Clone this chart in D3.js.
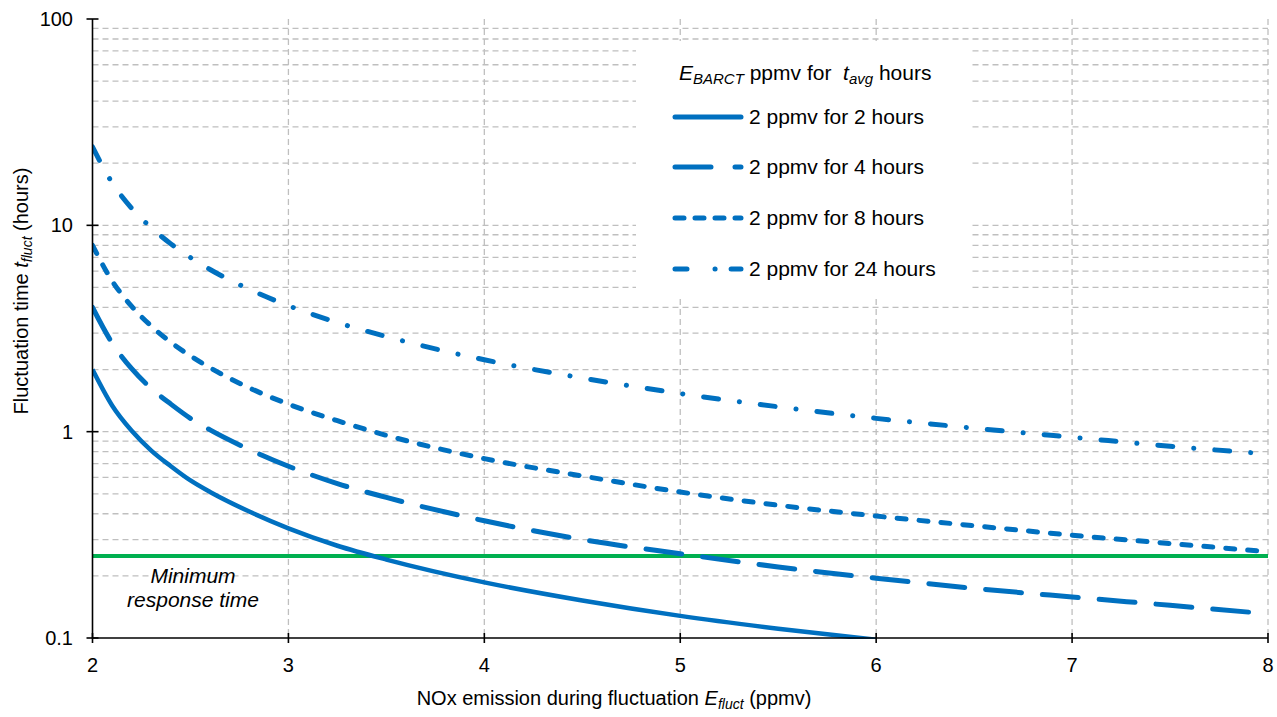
<!DOCTYPE html>
<html><head><meta charset="utf-8">
<script src="https://cdn.jsdelivr.net/npm/d3@7"></script>
<style>body{margin:0;background:#fff}svg{display:block;font-family:"Liberation Sans",Arial,sans-serif}</style>
</head><body><svg id="c" width="1277" height="717"></svg>
<script>
const xValues = [2, 2.1, 2.2, 2.3, 2.4, 2.5, 2.6, 2.8, 3, 3.25, 3.5, 4, 4.5, 5, 5.5, 6, 6.5, 7, 7.5, 8];
const t2h  = [2.0, 1.34, 1.01, 0.81, 0.68, 0.58, 0.51, 0.41, 0.34, 0.28, 0.24, 0.186, 0.152, 0.128, 0.111, 0.098];
const t4h  = [4.0, 2.69, 2.02, 1.62, 1.36, 1.16, 1.02, 0.82, 0.68, 0.56, 0.48, 0.37, 0.30, 0.256, 0.221, 0.195, 0.174, 0.158, 0.144, 0.131];
const t8h  = [8.0, 5.38, 4.05, 3.25, 2.71, 2.33, 2.04, 1.63, 1.36, 1.13, 0.96, 0.74, 0.61, 0.51, 0.44, 0.39, 0.35, 0.315, 0.287, 0.262];
const t24h = [24.0, 16.1, 12.1, 9.74, 8.13, 6.98, 6.11, 4.90, 4.08, 3.38, 2.89, 2.23, 1.82, 1.53, 1.32, 1.16, 1.04, 0.94, 0.85, 0.78];
const seriesNames = ["2 ppmv for 2 hours", "2 ppmv for 4 hours", "2 ppmv for 8 hours", "2 ppmv for 24 hours"];
const minResponse = 0.25;
const xTicks = [2, 3, 4, 5, 6, 7, 8];
const yTicks = [0.1, 1, 10, 100];
const yTickLabels = ["0.1", "1", "10", "100"];

const svg = d3.select("#c");
const L = 92.5, R = 1268, T = 19, B = 638;
const x = d3.scaleLinear().domain([2, 8]).range([L, R]);
const y = d3.scaleLog().domain([0.1, 100]).range([B, T]);
const blue = "#0070c0", grid = "#bfbfbf";

// minor gridlines
const minor = [];
for (let d = 0.1; d < 100; d *= 10) for (let k = 1; k <= 9; k++) { const v = +(d * k).toPrecision(3); if (v > 0.1 && v <= 100) minor.push(v); }
svg.append("g").selectAll("line").data(minor).join("line")
  .attr("x1", L).attr("x2", R).attr("y1", d => y(d)).attr("y2", d => y(d))
  .attr("stroke", grid).attr("stroke-width", 1.3).attr("stroke-dasharray", "6,4");
svg.append("g").selectAll("line").data(xTicks.slice(1)).join("line")
  .attr("x1", d => x(d)).attr("x2", d => x(d)).attr("y1", T).attr("y2", B)
  .attr("stroke", grid).attr("stroke-width", 1.3).attr("stroke-dasharray", "6,4");

// legend background
svg.append("rect").attr("x", 636).attr("y", 41).attr("width", 336).attr("height", 254).attr("fill", "#fff");

// clip
svg.append("clipPath").attr("id", "pc").append("rect").attr("x", L).attr("y", T).attr("width", R - L).attr("height", B - T + 1);

// min response line
svg.append("line").attr("x1", L).attr("x2", R).attr("y1", y(minResponse)).attr("y2", y(minResponse))
  .attr("stroke", "#00b050").attr("stroke-width", 4);

const dashes = [null, "36,21", "9,13", "15,21,0.1,21"];
const series = [t2h, t4h, t8h, t24h];
const line = d3.line().x(d => x(d[0])).y(d => y(d[1])).curve(d3.curveMonotoneX);
const cg = svg.append("g").attr("clip-path", "url(#pc)");
series.forEach((s, i) => {
  cg.append("path").datum(s.map((v, j) => [xValues[j], v]))
    .attr("d", line).attr("fill", "none").attr("stroke", blue)
    .attr("stroke-width", i === 0 ? 4.5 : 5).attr("stroke-linecap", i === 0 ? "butt" : "round")
    .attr("stroke-dasharray", dashes[i]);
});

// axes
const ax = svg.append("g").attr("stroke", "#000").attr("stroke-width", 1.6);
ax.append("line").attr("x1", L).attr("x2", L).attr("y1", T).attr("y2", B + 0.5);
ax.append("line").attr("x1", L).attr("x2", R).attr("y1", B).attr("y2", B);
ax.selectAll(".yt").data(yTicks).join("line").attr("x1", L - 6).attr("x2", L + 6).attr("y1", d => y(d)).attr("y2", d => y(d));
ax.selectAll(".xt").data(xTicks).join("line").attr("x1", d => x(d)).attr("x2", d => x(d)).attr("y1", B - 5).attr("y2", B + 5);

svg.append("g").selectAll("text").data(yTicks).join("text")
  .attr("x", 73).attr("y", d => y(d)).attr("dy", "0.35em").attr("text-anchor", "end")
  .attr("font-size", 20).text((d, i) => yTickLabels[i]);
svg.append("g").selectAll("text").data(xTicks).join("text")
  .attr("x", d => x(d)).attr("y", 672).attr("text-anchor", "middle")
  .attr("font-size", 20).text(d => d);

// axis titles
const xt = svg.append("text").attr("x", 614).attr("y", 705).attr("text-anchor", "middle").attr("font-size", 20);
xt.append("tspan").text("NOx emission during fluctuation ");
xt.append("tspan").attr("font-style", "italic").text("E");
xt.append("tspan").attr("font-style", "italic").attr("font-size", 14).attr("dy", 4).text("fluct");
xt.append("tspan").attr("dy", -4).text(" (ppmv)");

const yt = svg.append("text").attr("transform", "translate(28,291) rotate(-90)").attr("text-anchor", "middle").attr("font-size", 20);
yt.append("tspan").text("Fluctuation time ");
yt.append("tspan").attr("font-style", "italic").text("t");
yt.append("tspan").attr("font-style", "italic").attr("font-size", 14).attr("dy", 4).text("fluct");
yt.append("tspan").attr("dy", -4).text(" (hours)");

// minimum response label
svg.append("text").attr("x", 193).attr("y", 583).attr("text-anchor", "middle").attr("font-size", 21).attr("font-style", "italic").text("Minimum");
svg.append("text").attr("x", 193).attr("y", 607).attr("text-anchor", "middle").attr("font-size", 21).attr("font-style", "italic").text("response time");

// legend
const lt = svg.append("text").attr("x", 679).attr("y", 80).attr("font-size", 21);
lt.append("tspan").attr("font-style", "italic").text("E");
lt.append("tspan").attr("font-style", "italic").attr("font-size", 15).attr("dy", 4).text("BARCT");
lt.append("tspan").attr("dy", -4).text(" ppmv for\u00a0\u00a0");
lt.append("tspan").attr("font-style", "italic").text("t");
lt.append("tspan").attr("font-style", "italic").attr("font-size", 15).attr("dy", 4).text("avg");
lt.append("tspan").attr("dy", -4).text(" hours");
const legY = [117, 167, 218, 269];
const legDash = [null, "36,24", "9,11", "12,28,0.1,16"];
seriesNames.forEach((n, i) => {
  svg.append("line").attr("x1", 675).attr("x2", 741).attr("y1", legY[i]).attr("y2", legY[i])
    .attr("stroke", blue).attr("stroke-width", 5).attr("stroke-linecap", "round").attr("stroke-dasharray", legDash[i]);
  svg.append("text").attr("x", 749).attr("y", legY[i]).attr("dy", "0.35em").attr("font-size", 21).text(n);
});
</script></body></html>
